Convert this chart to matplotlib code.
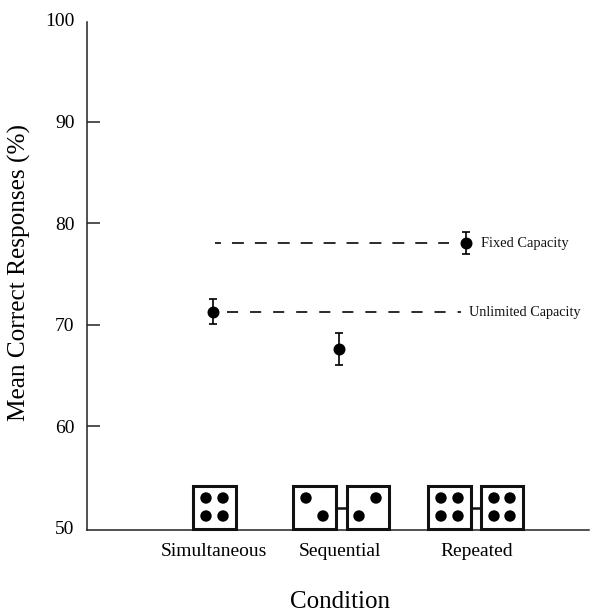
import matplotlib.pyplot as plt
from matplotlib.patches import Rectangle, Circle

plt.rcParams["font.family"] = ["Liberation Serif", "DejaVu Serif"]
plt.rcParams["lines.scale_dashes"] = False

conditions = ["Simultaneous", "Sequential", "Repeated"]
positions = [1, 2, 3]
label_positions = [1.005, 2.005, 3.09]
means = [71.26, 67.62, 78.03]
errors = [1.22, 1.56, 1.13]
y_ticks = [50, 60, 70, 80, 90, 100]

# reference lines: y and x extent
fixed_y = 78.03
fixed_x = [1.015, 2.865]
unlimited_y = 71.26
unlimited_x = [1.115, 2.965]

W, H = 602, 615


def draw_die(ov, x0, x1, pips):
    ov.add_patch(Rectangle((x0 + 0.7, 485.5), x1 - x0 - 1.4, 43, fill=False, ec="#111111", lw=2.2))
    for px, py in pips:
        ov.add_patch(Circle((px, py), 5.7, color="black", lw=0))


def main():
    fig = plt.figure(figsize=(W / 100, H / 100), dpi=100)
    ax = fig.add_axes([87 / W, 1 - 530 / H, (589 - 87) / W, (530 - 20) / H])

    ax.errorbar(positions, means, yerr=errors, fmt="o", color="black", ms=7.6,
                elinewidth=1.2, capsize=3.2, capthick=1.2)
    ax.plot(fixed_x, [fixed_y, fixed_y], color="#111111", lw=1.25,
            linestyle=(4.3, (8.6, 7.9)))
    ax.plot(unlimited_x, [unlimited_y, unlimited_y], color="#111111", lw=1.25,
            linestyle=(0, (8.0, 8.6)))
    ax.text(3.123, fixed_y - 0.05, "Fixed Capacity", fontsize=10.4, va="center", color="#111111")
    ax.text(3.023, unlimited_y - 0.12, "Unlimited Capacity", fontsize=10.3, va="center", color="#111111")

    ax.set_xlim(0.005, 3.975)
    ax.set_ylim(49.76, 100)
    ax.set_yticks(y_ticks)
    ax.set_xticks(label_positions)
    ax.set_xticklabels(conditions)
    ax.tick_params(axis="y", direction="in", length=9.5, width=1.1, color="#222222", labelsize=14, pad=9)
    ax.tick_params(axis="x", length=0, labelsize=14, pad=9)
    for i in (0, -1):
        ax.yaxis.get_major_ticks()[i].tick1line.set_visible(False)
    ax.set_ylabel("Mean Correct Responses (%)", fontsize=18.2, labelpad=10, y=0.505)
    ax.set_xlabel("Condition", fontsize=18, labelpad=23, x=0.504)
    ax.spines["top"].set_visible(False)
    ax.spines["right"].set_visible(False)
    ax.spines["left"].set_bounds(49.76, 99.85)
    ax.spines["left"].set_linewidth(1.1)
    ax.spines["bottom"].set_linewidth(1.1)
    ax.spines["left"].set_color("#222222")
    ax.spines["bottom"].set_color("#222222")

    # stimulus dice sit on the axis, drawn in pixel space
    ov = fig.add_axes([0, 0, 1, 1], facecolor="none")
    ov.set_xlim(0, W)
    ov.set_ylim(H, 0)
    ov.axis("off")
    draw_die(ov, 192.5, 237, [(206, 498), (223, 498), (206, 516), (223, 516)])
    draw_die(ov, 292.5, 337, [(306, 498), (323, 516)])
    draw_die(ov, 346, 390, [(376, 498), (359, 516)])
    draw_die(ov, 427.5, 472, [(441, 498), (458, 498), (441, 516), (458, 516)])
    draw_die(ov, 480.5, 524, [(494, 498), (510, 498), (494, 516), (510, 516)])
    ov.plot([336, 347], [508, 508], color="#111111", lw=1.8, solid_capstyle="butt")
    ov.plot([471, 481.5], [508, 508], color="#111111", lw=1.8, solid_capstyle="butt")

    fig.savefig("out.png", dpi=100)


if __name__ == "__main__":
    main()
